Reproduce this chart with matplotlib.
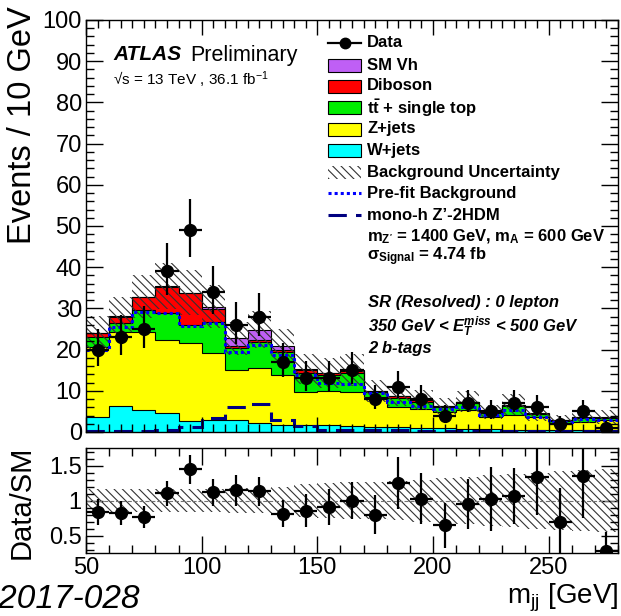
import numpy as np
import matplotlib
matplotlib.use('Agg')
import matplotlib.pyplot as plt
from matplotlib.patches import Rectangle
from matplotlib.lines import Line2D
from matplotlib.ticker import MultipleLocator, FuncFormatter

plt.rcParams['font.family'] = ['Liberation Sans', 'DejaVu Sans']
plt.rcParams['mathtext.fontset'] = 'custom'
plt.rcParams['mathtext.rm'] = 'Liberation Sans'
plt.rcParams['mathtext.it'] = 'Liberation Sans:italic'
plt.rcParams['mathtext.bf'] = 'Liberation Sans:bold'
plt.rcParams['mathtext.bfit'] = 'Liberation Sans:italic:bold'
plt.rcParams['hatch.linewidth'] = 0.8

# m_jj binning, 10 GeV bins from 50 to 280
edges = np.arange(50, 290, 10)
centers = edges[:-1] + 5

data = np.array([20, 23, 25, 39, 49, 34, 26, 28, 17, 13, 13, 15, 8, 11, 8, 4, 7, 5, 7, 6, 2, 5, 1])

# stacked backgrounds (bottom -> top)
w_jets = np.array([3.7, 6.3, 5.3, 4.5, 2.7, 3.0, 2.8, 2.1, 1.8, 1.7, 1.6, 1.5, 1.2, 1.1, 1.0, 0.9, 0.8, 0.7, 0.6, 0.6, 0.5, 0.5, 0.4])
z_jets = np.array([17.0, 18.0, 19.0, 17.8, 18.8, 16.1, 12.2, 13.4, 12.0, 8.1, 8.4, 8.3, 7.4, 5.0, 4.5, 4.0, 4.5, 3.0, 3.5, 3.0, 1.4, 2.0, 2.5])
ttbar = np.array([2.4, 2.1, 5.3, 6.5, 4.5, 7.7, 5.5, 6.4, 5.7, 4.4, 3.8, 4.5, 1.0, 2.1, 1.9, 1.1, 1.9, 1.0, 2.2, 0.7, 0.8, 1.0, 0.5])
diboson = np.array([0.9, 1.6, 3.1, 6.5, 7.7, 3.0, 0.4, 0.4, 0.4, 0.8, 0.4, 0.6, 0.3, 0.5, 0.3, 0.2, 0.1, 0.1, 0.2, 0.1, 0.1, 0.1, 0.1])
sm_vh = np.array([0.1, 0.1, 0.1, 0.1, 0.1, 0.6, 1.8, 2.5, 1.0, 0.2, 0.1, 0.1, 0.1, 0.1, 0.1, 0.0, 0.1, 0.1, 0.1, 0.1, 0.1, 0.1, 0.1])

# relative background uncertainty
bkg_rel_unc = np.array([0.17, 0.17, 0.16, 0.16, 0.16, 0.17, 0.18, 0.18, 0.2, 0.24, 0.25, 0.26, 0.27, 0.28, 0.3, 0.32, 0.34, 0.36, 0.38, 0.4, 0.42, 0.43, 0.45])

prefit = np.array([20.0, 25.5, 29.2, 28.8, 25.7, 26.5, 19.5, 21.0, 18.7, 13.8, 12.0, 11.7, 9.4, 7.4, 6.3, 5.5, 6.1, 4.1, 5.3, 3.7, 2.5, 3.1, 2.9])
signal = np.array([0.2, 0.2, 0.2, 0.5, 1.2, 3.3, 6.1, 6.8, 2.9, 1.5, 0.6, 0.5, 0.4, 0.4, 0.3, 0.3, 0.3, 0.3, 0.2, 0.2, 0.2, 0.2, 0.2])

stack = [(w_jets, '#00ffff'), (z_jets, '#ffff00'), (ttbar, '#00ee00'),
         (diboson, '#ff0000'), (sm_vh, '#bf5ff5')]

HATCH = '\\\\\\\\'
W, H = 621, 616


def fbox(x0, y0, x1, y1):
    return [x0 / W, 1 - y1 / H, (x1 - x0) / W, (y1 - y0) / H]


def fx(px):
    return px / W


def fy(py):
    return 1 - py / H


fig = plt.figure(figsize=(W / 100, H / 100), dpi=100)
ax = fig.add_axes(fbox(86, 20, 618, 432))
rax = fig.add_axes(fbox(86, 448, 618, 553))

# stack
bottom = np.zeros(len(centers))
tops = []
for vals, col in stack:
    top = bottom + vals
    ax.stairs(top, edges, baseline=bottom, fill=True, color=col, lw=0)
    tops.append(top)
    bottom = top
for top in tops:
    ax.stairs(top, edges, baseline=None, color='k', lw=0.8)
total = bottom

ax.stairs(total * (1 + bkg_rel_unc), edges, baseline=total * (1 - bkg_rel_unc), fill=True,
          facecolor='none', edgecolor='#333333', hatch=HATCH, lw=0)
ax.stairs(prefit, edges, baseline=None, color='#0000ff', lw=2.2, ls=(0, (1, 1)))
ax.stairs(signal, edges, baseline=None, color='#000080', lw=2.2, ls=(0, (6, 3)))

err_lo = np.sqrt(data + 0.25) - 0.5
err_hi = np.sqrt(data + 0.25) + 0.5
ax.errorbar(centers, data, xerr=5, yerr=[err_lo, err_hi], fmt='o', color='k',
            ms=8.5, lw=1.6, capsize=0)

ax.set_xlim(50, 280)
ax.set_ylim(0, 100)
ax.xaxis.set_major_locator(MultipleLocator(50))
ax.xaxis.set_minor_locator(MultipleLocator(5))
ax.yaxis.set_major_locator(MultipleLocator(10))
ax.yaxis.set_minor_locator(MultipleLocator(2))
ax.tick_params(which='both', direction='in', top=True, right=True, labelsize=17, width=1)
ax.tick_params(axis='x', which='major', length=11, labelbottom=False)
ax.tick_params(axis='x', which='minor', length=6)
ax.tick_params(axis='y', which='major', length=12, pad=3)
ax.tick_params(axis='y', which='minor', length=6)

# ratio panel
rax.stairs(1 + bkg_rel_unc, edges, baseline=1 - bkg_rel_unc, fill=True,
           facecolor='none', edgecolor='#333333', hatch=HATCH, lw=0)
rax.axhline(1, ls='--', color='0.45', lw=0.8)
ratio = data / total
ratio_err = np.sqrt(data) / total
rax.errorbar(centers, ratio, xerr=5, yerr=ratio_err, fmt='o', color='k',
             ms=8.5, lw=1.6, capsize=0)
rax.set_xlim(50, 280)
rax.set_ylim(0.25, 1.75)
rax.xaxis.set_major_locator(MultipleLocator(50))
rax.xaxis.set_minor_locator(MultipleLocator(10))
rax.yaxis.set_major_locator(MultipleLocator(0.5))
rax.yaxis.set_minor_locator(MultipleLocator(0.1))
rax.yaxis.set_major_formatter(FuncFormatter(lambda v, p: '%g' % v))
rax.tick_params(which='both', direction='in', top=True, right=True, labelsize=17, width=1)
rax.tick_params(axis='x', which='major', length=12, pad=3)
rax.tick_params(axis='x', which='minor', length=6)
rax.tick_params(axis='y', which='major', length=12, pad=3)
rax.tick_params(axis='y', which='minor', length=6)

for a in (ax, rax):
    for s in a.spines.values():
        s.set_linewidth(1.0)

# axis titles
fig.text(fx(23), fy(6), 'Events / 10 GeV', rotation=90, ha='center', va='top', fontsize=23.5)
fig.text(fx(22), fy(502), 'Data/SM', rotation=90, ha='center', va='center', fontsize=21)
fig.text(fx(618), fy(598), r'm$_{\mathrm{jj}}$ [GeV]', ha='right', va='center', fontsize=20)
fig.text(fx(140), fy(600), 'ATLAS-CONF-2017-028', ha='right', va='center', fontsize=24, style='italic')

# ATLAS label
fig.text(fx(113), fy(55), 'ATLAS', fontsize=15, weight='bold', style='italic', va='center')
fig.text(fx(190), fy(55), 'Preliminary', fontsize=15.5, va='center')
fig.text(fx(113), fy(80), '\u221As = 13 TeV , 36.1 fb$^{-1}$', fontsize=11, va='center')

# legend
bx0, bx1 = 328, 361
tx = 367
rows = {'data': 42.7, 'vh': 65, 'vv': 86, 'tt': 107.7, 'z': 129, 'w': 151,
        'unc': 172.7, 'pre': 193.3, 'sig': 215}


def box(yc, **kw):
    r = Rectangle((fx(bx0), fy(yc + 6.5)), (bx1 - bx0) / W, 13 / H,
                  transform=fig.transFigure, **kw)
    fig.add_artist(r)


def ltext(yc, s):
    fig.text(fx(tx), fy(yc), s, fontsize=12, weight='bold', va='center')


fig.add_artist(Line2D([fx(bx0), fx(bx1)], [fy(rows['data'])] * 2, color='k', lw=1.6,
                      transform=fig.transFigure))
fig.add_artist(Line2D([fx((bx0 + bx1) / 2)], [fy(rows['data'])], marker='o', ms=7.5, color='k',
                      transform=fig.transFigure))
ltext(rows['data'], 'Data')
labels = {'vh': 'SM Vh', 'vv': 'Diboson', 'tt': r'$\mathbf{t\bar{t}}$ + single top',
          'z': 'Z+jets', 'w': 'W+jets'}
colors = {'w': '#00ffff', 'z': '#ffff00', 'tt': '#00ee00', 'vv': '#ff0000', 'vh': '#bf5ff5'}
for k in ['vh', 'vv', 'tt', 'z', 'w']:
    box(rows[k], facecolor=colors[k], edgecolor='k', lw=0.8)
    ltext(rows[k], labels[k])
box(rows['unc'], facecolor='none', edgecolor='#333333', hatch=HATCH, lw=0)
ltext(rows['unc'], 'Background Uncertainty')
fig.add_artist(Line2D([fx(bx0), fx(bx1)], [fy(rows['pre'])] * 2, color='#0000ff', lw=2.2,
                      ls=(0, (1, 1)), transform=fig.transFigure))
ltext(rows['pre'], 'Pre-fit Background')
fig.add_artist(Line2D([fx(bx0), fx(bx1)], [fy(rows['sig'])] * 2, color='#000080', lw=2.2,
                      ls=(0, (6, 3)), transform=fig.transFigure))
ltext(rows['sig'], 'mono-h Z\u2019-2HDM')
ltext(236.7, r"m$_{\mathbf{Z'}}$ = 1400 GeV, m$_{\mathbf{A}}$ = 600 GeV")
ltext(256.7, r'$\mathbf{\sigma}_{\mathbf{Signal}}$ = 4.74 fb')

# region label
for yc, s in [(302, 'SR (Resolved) : 0 lepton'),
              (327, r'350 GeV < $\mathbfit{E}_{\mathbfit{T}}^{\mathbfit{miss}}$ < 500 GeV'),
              (348, '2 b-tags')]:
    fig.text(fx(368), fy(yc), s, fontsize=12, weight='bold', style='italic', va='center')

fig.savefig('out.png', dpi=100)
